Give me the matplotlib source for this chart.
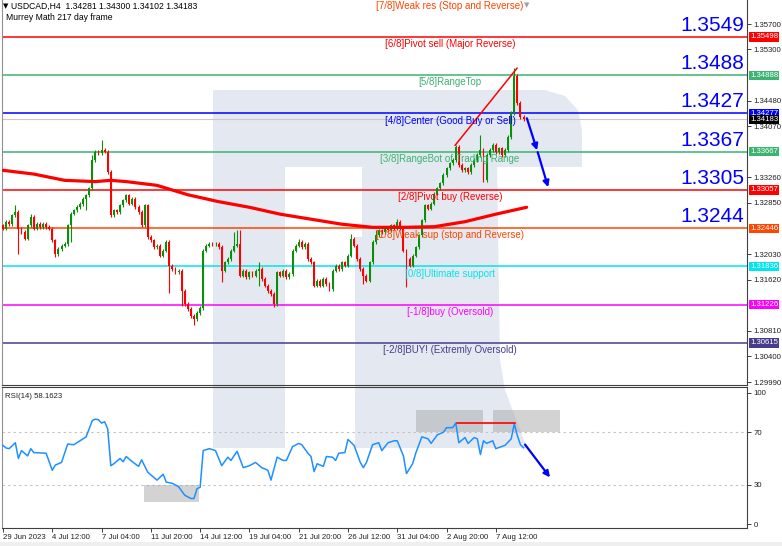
import matplotlib
matplotlib.use('Agg')
import matplotlib.pyplot as plt
from matplotlib.patches import Rectangle, Polygon
import numpy as np

plt.rcParams['font.family'] = ['Liberation Sans', 'DejaVu Sans']

# ---------------- data ----------------
first_open = 1.3249
closes = [
    1.3244, 1.3254, 1.3251, 1.3265, 1.3270, 1.3244, 1.3238, 1.3228, 1.3249, 1.3262,
    1.3244, 1.3251, 1.3247, 1.3252, 1.3247, 1.3244, 1.3225, 1.3204, 1.3212, 1.3217,
    1.3220, 1.3249, 1.3268, 1.3273, 1.3279, 1.3283, 1.3292, 1.3297, 1.3308, 1.3353,
    1.3366, 1.3364, 1.3369, 1.3367, 1.3334, 1.3265, 1.3273, 1.3270, 1.3281, 1.3289,
    1.3297, 1.3284, 1.3292, 1.3278, 1.3270, 1.3249, 1.3281, 1.3230, 1.3225, 1.3214,
    1.3217, 1.3201, 1.3209, 1.3222, 1.3185, 1.3180, 1.3174, 1.3177, 1.3145, 1.3124,
    1.3116, 1.3105, 1.3100, 1.3109, 1.3117, 1.3209, 1.3217, 1.3220, 1.3219, 1.3220,
    1.3215, 1.3177, 1.3190, 1.3196, 1.3209, 1.3217, 1.3220, 1.3169, 1.3177, 1.3167,
    1.3174, 1.3169, 1.3177, 1.3180, 1.3164, 1.3153, 1.3145, 1.3140, 1.3124, 1.3174,
    1.3169, 1.3177, 1.3166, 1.3171, 1.3209, 1.3217, 1.3222, 1.3215, 1.3220, 1.3196,
    1.3190, 1.3153, 1.3161, 1.3153, 1.3164, 1.3156, 1.3148, 1.3177, 1.3185, 1.3180,
    1.3190, 1.3185, 1.3201, 1.3228, 1.3217, 1.3196, 1.3180, 1.3169, 1.3161, 1.3190,
    1.3222, 1.3233, 1.3241, 1.3238, 1.3244, 1.3241, 1.3249, 1.3244, 1.3254, 1.3244,
    1.3209, 1.3196, 1.3185, 1.3201, 1.3214, 1.3233, 1.3257, 1.3281, 1.3276, 1.3284,
    1.3300, 1.3308, 1.3316, 1.3329, 1.3340, 1.3348, 1.3353, 1.3374, 1.3345, 1.3337,
    1.3340, 1.3334, 1.3345, 1.3353, 1.3361, 1.3369, 1.3321, 1.3361, 1.3369, 1.3377,
    1.3366, 1.3372, 1.3361, 1.3369, 1.3390, 1.3428, 1.3487, 1.3444, 1.3422, 1.34183,
]
# wick lengths in pips
upper_wick = [
    3, 3, 3, 3, 11, 3, 3, 3, 3, 5,
    3, 3, 3, 3, 3, 3, 3, 3, 3, 3,
    3, 3, 3, 3, 3, 3, 3, 3, 3, 8,
    3, 3, 16, 3, 3, 3, 3, 3, 3, 3,
    3, 3, 3, 3, 3, 3, 3, 3, 3, 3,
    3, 3, 3, 3, 3, 3, 3, 3, 3, 3,
    3, 3, 3, 3, 3, 3, 3, 3, 3, 3,
    3, 3, 3, 3, 3, 21, 21, 21, 3, 3,
    3, 3, 3, 10, 3, 3, 3, 3, 3, 3,
    3, 3, 3, 3, 3, 3, 6, 3, 3, 3,
    3, 3, 3, 3, 3, 3, 3, 3, 3, 3,
    3, 3, 3, 8, 3, 3, 3, 3, 3, 3,
    3, 8, 3, 3, 3, 3, 3, 3, 6, 3,
    3, 3, 3, 3, 3, 3, 3, 3, 3, 3,
    3, 3, 3, 3, 3, 3, 3, 3, 3, 3,
    3, 3, 3, 3, 3, 24, 3, 3, 3, 3,
    3, 3, 3, 3, 3, 3, 13, 3, 3, 3,
]
lower_wick = [
    3, 3, 3, 3, 3, 40, 3, 3, 3, 3,
    3, 3, 3, 3, 3, 3, 3, 5, 3, 3,
    3, 3, 27, 3, 3, 3, 3, 19, 3, 3,
    3, 3, 3, 3, 3, 3, 3, 3, 3, 3,
    3, 3, 3, 3, 3, 3, 3, 3, 3, 3,
    3, 3, 3, 3, 43, 3, 3, 3, 24, 3,
    3, 3, 10, 3, 3, 3, 3, 3, 3, 3,
    3, 19, 3, 3, 3, 3, 3, 3, 3, 3,
    3, 3, 3, 24, 3, 3, 3, 3, 5, 3,
    3, 3, 3, 3, 3, 3, 3, 3, 3, 3,
    3, 3, 3, 3, 3, 3, 3, 3, 3, 3,
    3, 3, 3, 3, 3, 3, 3, 13, 3, 3,
    3, 3, 3, 3, 3, 3, 3, 3, 3, 3,
    3, 46, 3, 3, 3, 3, 3, 3, 3, 3,
    3, 3, 3, 3, 3, 3, 3, 3, 3, 3,
    3, 3, 3, 3, 3, 3, 3, 3, 3, 3,
    3, 3, 3, 3, 3, 3, 3, 3, 3, 3,
]

ma_bars = [0, 10, 20, 30, 35, 40, 50, 60, 70, 80, 90, 100, 110, 120, 130, 140, 150, 160, 170]
ma_vals = [1.3337, 1.3331, 1.3321, 1.3319, 1.3321, 1.3319, 1.3313, 1.3298, 1.3287, 1.3278,
           1.3267, 1.3259, 1.3251, 1.3246, 1.3246, 1.3247, 1.3255, 1.3267, 1.3278]

trend_bars = [146.8, 166.9]
trend_vals = [1.3377, 1.3500]

arrow1 = [(170.1, 1.3420), (173.4, 1.3369)]
arrow2 = [(173.6, 1.3366), (177.0, 1.3310)]

rsi_bars = [0, 1, 2, 4, 5, 6, 8, 9, 10, 14, 16, 17, 19, 21, 23, 25, 27, 29, 30, 31,
            32, 33, 34, 35, 36, 38, 39, 40, 42, 44, 45, 47, 50, 52, 53, 55, 57, 59, 61, 62,
            63, 64, 65, 67, 69, 71, 73, 74, 76, 78, 80, 82, 84, 86, 87, 89, 91, 92, 94, 96,
            97, 99, 100, 101, 102, 104, 105, 107, 108, 109, 111, 112, 114, 116, 117, 118, 120, 122, 123, 125,
            127, 128, 130, 131, 133, 134, 136, 138, 139, 141, 143, 144, 146, 147, 148, 150, 151, 153, 154, 155,
            156, 157, 159, 160, 163, 165, 166, 167, 168, 169]
rsi_vals = [60, 58, 57.5, 62, 50, 56, 52, 57.5, 54.5, 54, 41, 45, 47, 61, 60.5, 63.5, 66.5, 79, 80, 79.5,
            77, 78, 72.5, 44.5, 46, 50, 47.5, 51.5, 47.5, 44, 49, 39.5, 33.5, 38, 32, 31, 28.5, 22, 19.5, 19.5,
            27, 28, 56, 57.5, 56, 44.5, 51, 48.5, 55.5, 43, 44.5, 47, 43, 41, 33.5, 51, 48.5, 48.5, 59, 61.5,
            60.5, 54, 51.5, 40, 46, 44, 51.5, 51, 48.5, 54, 54.5, 64.5, 60, 47, 43, 47, 60.5, 62, 56, 62,
            63.5, 63.5, 52, 38.5, 46, 54, 66.5, 65, 61.5, 68, 70, 73.5, 73.5, 77, 62, 66, 61.5, 66, 65, 53,
            63.5, 61.5, 63.5, 57.5, 60, 65, 76.5, 67.5, 60.5, 58.2]
rsi_boxes = [(45.8, 63.6, 16.7, 29.5), (134.1, 155.8, 70, 87), (159.1, 180.9, 70, 87)]
rsi_flat = [(147.4, 166.2), (77.3, 77.3)]
rsi_arrow = [(169.5, 60.6), (177.6, 35.6)]

murrey_names = ['[7/8]Weak res (Stop and Reverse)', '[6/8]Pivot sell (Major Reverse)', '[5/8]RangeTop',
                '[4/8]Center (Good Buy or Sell)', '[3/8]RangeBot of Trading Range', '[2/8]Pivot buy (Reverse)',
                '[1/8]Weak sup (stop and Reverse)', '[0/8]Ultimate support', '[-1/8]buy (Oversold)',
                '[-2/8]BUY! (Extremly Oversold)']
murrey_levels = [1.36108, 1.35498, 1.34888, 1.34277, 1.33667, 1.33057, 1.32446, 1.31836, 1.31226, 1.30615]
murrey_colors = ['#ff4500', '#ff0000', '#3cb371', '#0000ff', '#3cb371', '#ff0000', '#ff4500', '#00e5ee',
                 '#ff00ff', '#483d8b']
big_labels = ['1.3549', '1.3488', '1.3427', '1.3367', '1.3305', '1.3244']
big_levels = [1.35498, 1.34888, 1.34277, 1.33667, 1.33057, 1.32446]

price_ticks = [1.35700, 1.35300, 1.34480, 1.34070, 1.33260, 1.32850, 1.32030, 1.31620, 1.30810, 1.30400, 1.29990]
last_price = 1.34183

date_ticks = [0, 16, 32, 48, 64, 80, 96, 112, 128, 144, 160]
date_labels = ['29 Jun 2023', '4 Jul 12:00', '7 Jul 04:00', '11 Jul 20:00', '14 Jul 12:00', '19 Jul 04:00',
               '21 Jul 20:00', '26 Jul 12:00', '31 Jul 04:00', '2 Aug 20:00', '7 Aug 12:00']

# ---------------- layout ----------------
W, H = 782, 546
bar_px = 3.08
x_first = 3.0
small = 5.6


def fx(px):
    return px / W


def fy(py):
    return 1 - py / H


def px_to_bar(px):
    return (px - x_first) / bar_px


fig = plt.figure(figsize=(W / 100, H / 100), dpi=100)
fig.patch.set_facecolor('white')

# watermark "R" (behind both panels), pixel coords
wm_color = '#e4e9f1'
wm_shapes = [
    [(213, 90), (285, 90), (285, 448), (213, 448)],
    [(213, 90), (545, 90), (565, 96), (578, 110), (582, 130), (582, 167), (213, 167)],
    [(362, 160), (497, 160), (500, 360), (505, 390), (527, 448), (355, 448), (355, 237), (362, 237)],
]
for shp in wm_shapes:
    fig.patches.append(Polygon([(fx(a), fy(b)) for a, b in shp], closed=True, transform=fig.transFigure,
                               facecolor=wm_color, edgecolor='none', zorder=-5))

ax = fig.add_axes([fx(2), fy(385), fx(747) - fx(2), fy(0) - fy(385)])
ax_r = fig.add_axes([fx(2), fy(528), fx(747) - fx(2), fy(387) - fy(528)])
for a in (ax, ax_r):
    a.set_facecolor('none')
    a.set_xlim(px_to_bar(2), px_to_bar(747))
    for s in a.spines.values():
        s.set_color('#404040')
        s.set_linewidth(0.8)
ax.spines['top'].set_visible(False)
ax.spines['left'].set_color('#909090')
ax_r.spines['left'].set_color('#909090')

ax.set_ylim(1.29944, 1.36088)

# candles
closes_a = np.array(closes)
opens_a = np.array([first_open] + closes[:-1])
bars = np.arange(len(closes))
tops = np.maximum(opens_a, closes_a)
bots = np.minimum(opens_a, closes_a)
highs = tops + np.array(upper_wick) * 0.0001
lows = bots - np.array(lower_wick) * 0.0001
cols = np.where(closes_a >= opens_a, '#0a8f0a', '#ff0000')
ax.vlines(bars, lows, highs, colors=cols, lw=0.8, zorder=3)
ax.bar(bars, np.maximum(tops - bots, 0.00008), bottom=bots, width=0.62, color=cols, lw=0, zorder=3)

# Murrey levels
for name, lvl, c in zip(murrey_names, murrey_levels, murrey_colors):
    ax.axhline(lvl, color=c, lw=1.1, zorder=2)
    ax.annotate(name, xy=(px_to_bar(450), lvl), xytext=(0, -1.5), textcoords='offset points',
                ha='center', va='top', fontsize=7, color=c, annotation_clip=False, zorder=5)
    if lvl < 1.36088:
        ax.annotate(f'{lvl:.5f}', xy=(1, lvl), xycoords=('axes fraction', 'data'), xytext=(2.2, 0),
                    textcoords='offset points', ha='left', va='center', fontsize=small, color='white',
                    annotation_clip=False, zorder=6,
                    bbox=dict(boxstyle='square,pad=0.15', fc=c, ec='none'))

ax.axhline(last_price, color='#c8c8c8', lw=0.8, zorder=1)
ax.annotate(f'{last_price:.5f}', xy=(1, last_price), xycoords=('axes fraction', 'data'), xytext=(2.2, 0),
            textcoords='offset points', ha='left', va='center', fontsize=small, color='white',
            annotation_clip=False, zorder=6, bbox=dict(boxstyle='square,pad=0.15', fc='black', ec='none'))

for lab, lvl in zip(big_labels, big_levels):
    ax.annotate(lab, xy=(px_to_bar(744), lvl), xytext=(0, 1.5), textcoords='offset points',
                ha='right', va='bottom', fontsize=15, color='#0000ff', zorder=5)

# moving average, trend line, arrows
ax.plot(ma_bars, ma_vals, color='#ff0000', lw=2.3, zorder=4, solid_capstyle='round')
ax.plot(trend_bars, trend_vals, color='#ff0000', lw=1.1, zorder=4)
for (x0, y0), (x1, y1) in (arrow1, arrow2):
    ax.annotate('', xy=(x1, y1), xytext=(x0, y0),
                arrowprops=dict(arrowstyle='-|>', color='#0000ff', lw=1.6, mutation_scale=9,
                                shrinkA=0, shrinkB=0), zorder=5)

ax.set_xticks([])
ax.yaxis.tick_right()
ax.set_yticks(price_ticks)
ax.set_yticklabels([f'{v:.5f}' for v in price_ticks])
ax.tick_params(axis='y', labelsize=small, length=3, width=0.6, pad=1.5, colors='#202020')

# RSI panel
ax_r.set_ylim(-3.0, 104.5)
for lvl in (70, 30):
    ax_r.axhline(lvl, color='#c0c0c0', lw=0.8, ls=(0, (2, 3)), zorder=1)
for x0, x1, y0, y1 in rsi_boxes:
    ax_r.add_patch(Rectangle((x0, y0), x1 - x0, y1 - y0, facecolor='#a8a8a8', alpha=0.5, lw=0, zorder=2))
ax_r.plot(rsi_bars, rsi_vals, color='#1e90ff', lw=1.1, zorder=3)
ax_r.plot(rsi_flat[0], rsi_flat[1], color='#ff0000', lw=1.2, zorder=4)
ax_r.annotate('', xy=rsi_arrow[1], xytext=rsi_arrow[0],
              arrowprops=dict(arrowstyle='-|>', color='#0000ff', lw=1.6, mutation_scale=9,
                              shrinkA=0, shrinkB=0), zorder=5)
ax_r.yaxis.tick_right()
ax_r.set_yticks([0, 30, 70, 100])
ax_r.tick_params(axis='y', labelsize=small, length=3, width=0.6, pad=1.5, colors='#202020')
ax_r.set_xticks(date_ticks)
ax_r.set_xticklabels(date_labels, ha='left')
ax_r.tick_params(axis='x', labelsize=small, length=3, width=0.6, pad=1.5, colors='#202020')
ax_r.text(0.004, 0.955, 'RSI(14) 58.1623', transform=ax_r.transAxes, fontsize=small, va='top', ha='left',
          color='#202020')

# header
fig.text(fx(3), fy(6), '\u25bc', fontsize=5, va='center', ha='left', color='black', family='DejaVu Sans')
fig.text(fx(11), fy(6), 'USDCAD,H4  1.34281 1.34300 1.34102 1.34183', fontsize=6.2, va='center', ha='left',
         color='black')
fig.text(fx(6), fy(18), 'Murrey Math 217 day frame', fontsize=6.2, va='center', ha='left', color='black')
fig.text(fx(527), fy(5), '\u25bc', fontsize=5, va='center', ha='center', color='#a0a0a0', family='DejaVu Sans')

fig.patches.append(Rectangle((0, 0), 1, fy(542), transform=fig.transFigure, facecolor='#efefef',
                             edgecolor='none', zorder=-6))

fig.savefig('out.png', dpi=100)
